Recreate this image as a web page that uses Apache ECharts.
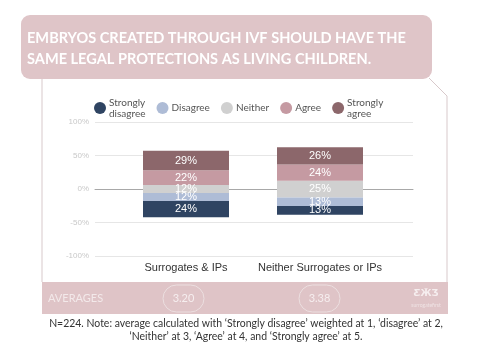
<!DOCTYPE html>
<html><head><meta charset="utf-8">
<script src="https://cdn.jsdelivr.net/npm/echarts@6/dist/echarts.min.js"></script>
<style>html,body{margin:0;padding:0;background:#fff}#c{width:500px;height:350px}</style>
</head><body><div id="c"></div>
<script>
var categories = ['Surrogates & IPs', 'Neither Surrogates or IPs'];
var stronglyDisagree = [24, 13];
var disagree = [12, 13];
var neither = [12, 25];
var agree = [22, 24];
var stronglyAgree = [29, 26];
var averages = ['3.20', '3.38'];
var yTicks = [-100, -50, 0, 50, 100];

var C = {sd:'#2f4462', d:'#aebcd6', n:'#d0d0d0', a:'#c59aa2', sa:'#8c676b'};
var GOTHIC = 'Lato';

function half(arr){ return arr.map(function(v){ return v/2; }); }
function neg(arr){ return arr.map(function(v){ return -v; }); }

var labelBase = {show:true, color:'#fff', fontSize:11, fontFamily:'Liberation Sans'};
function bar(name, data, color, labelOpt){
  return {
    name:name, type:'bar', stack:'total', xAxisIndex:1, yAxisIndex:1,
    barWidth:86, data:data, itemStyle:{color:color},
    label: labelOpt === false ? {show:false} : Object.assign({}, labelBase, {
      formatter:function(p){ return Math.abs(p.value) + '%'; }
    }, labelOpt||{}),
    emphasis:{disabled:true}
  };
}

var chart = echarts.init(document.getElementById('c'), null, {renderer:'canvas'});
chart.setOption({
  animation:false,
  textStyle:{fontFamily:GOTHIC},
  legend:{
    left:89, top:92, itemWidth:12, itemHeight:12, itemGap:11, icon:'circle',
    data:['Strongly disagree','Disagree','Neither','Agree','Strongly agree'],
    formatter:function(n){ return n.replace('Strongly ', 'Strongly\n'); },
    textStyle:{color:'#555', fontSize:10, fontFamily:GOTHIC, lineHeight:11, padding:[0,0,0,-2]},
    selectedMode:false
  },
  grid:[
    {left:95, right:87, top:122, bottom:94},
    {left:119, right:113, top:122, bottom:94}
  ],
  xAxis:[
    {gridIndex:0, type:'category', data:[''], axisLabel:{show:false}, axisTick:{show:false},
     axisLine:{show:true, onZero:true, lineStyle:{color:'#a8a8a8'}}},
    {gridIndex:1, type:'category', data:categories, axisTick:{show:false}, axisLine:{show:false},
     axisLabel:{color:'#333', fontSize:11, fontFamily:'Liberation Sans', margin:6, interval:0}}
  ],
  yAxis:[
    {gridIndex:0, type:'value', min:-100, max:100, interval:50,
     axisLabel:{color:'#c8c8c8', fontSize:8, fontFamily:'Liberation Sans', margin:6,
       formatter:function(v){ return yTicks.indexOf(v) >= 0 ? v + '%' : ''; }},
     splitLine:{lineStyle:{color:'#e6e6e6'}}, axisLine:{show:false}, axisTick:{show:false}},
    {gridIndex:1, type:'value', min:-100, max:100, interval:50, show:false, splitLine:{show:false}}
  ],
  series:[
    bar('Neither', neg(half(neither)), C.n, false),
    bar('Disagree', neg(disagree), C.d),
    bar('Strongly disagree', neg(stronglyDisagree), C.sd),
    bar('Neither', half(neither), C.n, {position:['50%','100%'], align:'center', verticalAlign:'middle',
       formatter:function(p){ return neither[p.dataIndex] + '%'; }}),
    bar('Agree', agree, C.a),
    bar('Strongly agree', stronglyAgree, C.sa)
  ],
  graphic:[
    {type:'rect', shape:{x:21, y:15, width:411, height:64, r:9}, style:{fill:'#dfc5c8'}, z:-1},
    {type:'text', x:27, y:27, scaleX:0.91, style:{text:'EMBRYOS CREATED THROUGH IVF SHOULD HAVE THE\nSAME LEGAL PROTECTIONS AS LIVING CHILDREN.',
       fill:'#fff', font:'bold 16px ' + GOTHIC, lineHeight:21, verticalAlign:'top'}},
    {type:'polyline', shape:{points:[[42,79],[42,282]]}, style:{stroke:'#d8c9cb', lineWidth:1}},
    {type:'polyline', shape:{points:[[429,78],[447,96],[447,282]]}, style:{stroke:'#d8c9cb', lineWidth:1, fill:null}},
    {type:'rect', shape:{x:42, y:282, width:406, height:32}, style:{fill:'#dfc4c7'}},
    {type:'text', x:48, y:298, style:{text:'AVERAGES', fill:'#f3e9ea', font:'11px ' + GOTHIC, verticalAlign:'middle'}},
    {type:'rect', shape:{x:163, y:285, width:41, height:27, r:13.5}, style:{fill:null, stroke:'#ecdfe0', lineWidth:1}},
    {type:'rect', shape:{x:299, y:285, width:41, height:27, r:13.5}, style:{fill:null, stroke:'#ecdfe0', lineWidth:1}},
    {type:'text', x:183.5, y:298.5, style:{text:averages[0], fill:'#f6eeef', font:'11px ' + GOTHIC, align:'center', verticalAlign:'middle'}},
    {type:'text', x:319.5, y:298.5, style:{text:averages[1], fill:'#f6eeef', font:'11px ' + GOTHIC, align:'center', verticalAlign:'middle'}},
    {type:'text', x:426, y:294, style:{text:'\u01B8\u04DC\u01B7', fill:'#f6eeef', font:'bold 9px "DejaVu Sans"', align:'center', verticalAlign:'middle'}},
    {type:'text', x:426, y:305, style:{text:'surrogatefirst', fill:'#efe3e4', font:'5px ' + GOTHIC, align:'center', verticalAlign:'middle'}},
    {type:'text', x:246, y:330, scaleX:0.95, originX:0, style:{text:'N=224. Note: average calculated with \u2018Strongly disagree\u2019 weighted at 1, \u2018disagree\u2019 at 2,\n\u2018Neither\u2019 at 3, \u2018Agree\u2019 at 4, and \u2018Strongly agree\u2019 at 5.',
       fill:'#333', font:'11px ' + GOTHIC, align:'center', verticalAlign:'middle', lineHeight:13}}
  ]
});
</script></body></html>
